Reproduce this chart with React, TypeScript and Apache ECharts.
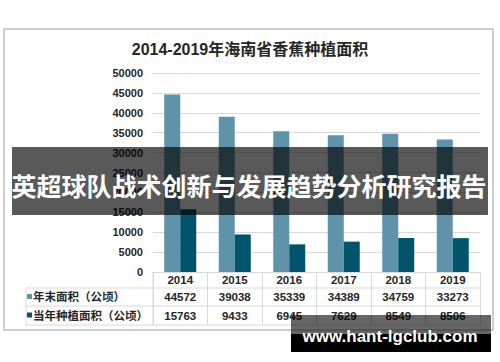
import React, { useEffect, useRef } from "react";
import * as echarts from "echarts";

const titleText = "2014-2019年海南省香蕉种植面积";
const categories = ["2014", "2015", "2016", "2017", "2018", "2019"];
const seriesNames = ["年末面积（公顷）", "当年种植面积（公顷）"];
const yearEndArea = [44572, 39038, 35339, 34389, 34759, 33273];
const plantedArea = [15763, 9433, 6945, 7629, 8549, 8506];
const seriesColors = ["#5f93a9", "#02546c"];
const yMax = 50000;
const yInterval = 5000;
const bannerText = "英超球队战术创新与发展趋势分析研究报告";
const watermarkText = "www.hant-lgclub.com";

const FONT = "'Liberation Sans', Arial, 'Noto Sans CJK SC', sans-serif";

export default function App() {
  const ref = useRef<HTMLDivElement>(null);
  useEffect(() => {
    if (!ref.current) return;
    const chart = echarts.init(ref.current, null, { renderer: "svg" });
    const gridLeft = 153;
    const gridRight = 480;
    const axisY = 272;
    const rowLines = [288, 306, 325];
    const tableLeft = 26;
    const rowCenters = [297, 315.5];
    const lineColor = "#d9d9d9";

    const graphics: any[] = [
      {
        type: "rect",
        shape: { x: 4, y: 29, width: 489, height: 301 },
        style: { fill: "none", stroke: "#bfbfbf", lineWidth: 1.5 },
        z: -10,
      },
    ];
    rowLines.forEach((y) => {
      graphics.push({
        type: "line",
        shape: { x1: tableLeft, y1: y, x2: gridRight, y2: y },
        style: { stroke: lineColor, lineWidth: 1 },
      });
    });
    graphics.push({
      type: "line",
      shape: { x1: tableLeft, y1: rowLines[0], x2: tableLeft, y2: rowLines[2] },
      style: { stroke: lineColor, lineWidth: 1 },
    });
    graphics.push({
      type: "line",
      shape: { x1: gridLeft, y1: axisY, x2: gridLeft, y2: rowLines[2] },
      style: { stroke: lineColor, lineWidth: 1 },
    });
    seriesNames.forEach((name, i) => {
      graphics.push({
        type: "rect",
        shape: { x: 27, y: rowCenters[i] - 3, width: 5, height: 5 },
        style: { fill: seriesColors[i] },
      });
      graphics.push({
        type: "text",
        x: 33,
        y: rowCenters[i],
        style: {
          text: name,
          font: `bold 11.5px ${FONT}`,
          fill: "#262626",
          verticalAlign: "middle",
          align: "left",
        },
      });
    });
    // banner overlay
    graphics.push({
      type: "rect",
      shape: { x: 12, y: 147, width: 476, height: 68 },
      style: { fill: "rgba(0,0,0,0.65)" },
      z: 100,
    });
    graphics.push({
      type: "text",
      x: 249,
      y: 185,
      style: {
        text: bannerText,
        font: `bold 25px 'Noto Sans CJK SC', sans-serif`,
        fill: "#ffffff",
        align: "center",
        verticalAlign: "middle",
      },
      z: 101,
    });
    // watermark
    graphics.push({
      type: "rect",
      shape: { x: 291, y: 315, width: 200, height: 19 },
      style: { fill: "rgba(0,0,0,0.6)" },
      z: 100,
    });
    graphics.push({
      type: "rect",
      shape: { x: 291, y: 334, width: 200, height: 18 },
      style: { fill: "#000000" },
      z: 100,
    });
    graphics.push({
      type: "text",
      x: 390,
      y: 336,
      style: {
        text: watermarkText,
        font: `bold 17px 'Liberation Sans', Arial, sans-serif`,
        fill: "#ffffff",
        align: "center",
        verticalAlign: "middle",
      },
      z: 101,
    });

    chart.setOption({
      animation: false,
      backgroundColor: "#ffffff",
      title: {
        text: titleText,
        left: "center",
        top: 41,
        padding: 0,
        textStyle: { fontFamily: FONT, fontSize: 16, fontWeight: "bold", color: "#262626" },
      },
      grid: { left: gridLeft, right: 500 - gridRight, top: 73, bottom: 362 - axisY },
      xAxis: {
        type: "category",
        data: categories,
        axisLine: { lineStyle: { color: lineColor, width: 1 } },
        axisTick: { show: true, length: rowLines[2] - axisY, interval: 0, lineStyle: { color: lineColor } },
        axisLabel: {
          interval: 0,
          margin: 0,
          formatter: (v: string, i: number) =>
            `{y|${v}}\n{a|${yearEndArea[i]}}\n{b|${plantedArea[i]}}`,
          rich: {
            y: { fontFamily: FONT, fontSize: 11.5, fontWeight: "bold", color: "#262626", lineHeight: 16, height: 16 },
            a: { fontFamily: FONT, fontSize: 11.5, fontWeight: "bold", color: "#262626", lineHeight: 18, height: 18 },
            b: { fontFamily: FONT, fontSize: 11.5, fontWeight: "bold", color: "#262626", lineHeight: 19, height: 19 },
          },
        },
      },
      yAxis: {
        type: "value",
        min: 0,
        max: yMax,
        interval: yInterval,
        axisLine: { show: false },
        axisTick: { show: false },
        axisLabel: {
          fontFamily: FONT,
          fontSize: 11,
          fontWeight: "bold",
          color: "#262626",
          margin: 10,
          formatter: (v: number) => String(v),
        },
        splitLine: { lineStyle: { color: lineColor, width: 1.2 } },
      },
      series: [
        { name: seriesNames[0], type: "bar", data: yearEndArea, barWidth: 16, barGap: "0%", itemStyle: { color: seriesColors[0] } },
        { name: seriesNames[1], type: "bar", data: plantedArea, barWidth: 16, barGap: "0%", itemStyle: { color: seriesColors[1] } },
      ],
      graphic: graphics,
    });
    return () => chart.dispose();
  }, []);
  return (
    <div
      ref={ref}
      style={{ position: "fixed", left: 0, top: 0, width: 500, height: 362 }}
    />
  );
}
